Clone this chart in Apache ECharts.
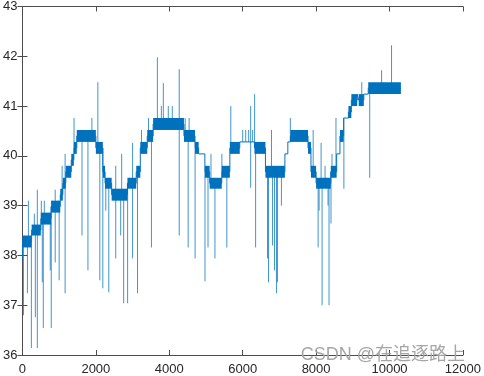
<!DOCTYPE html>
<html>
<head>
<meta charset="utf-8">
<script src="https://cdn.jsdelivr.net/npm/echarts@6/dist/echarts.min.js"></script>
<style>
  html, body { margin: 0; padding: 0; background: #fff; }
  #main { width: 484px; height: 376px; }
</style>
</head>
<body>
<div id="main"></div>
<script>
// plateaus: [xStart, xEnd, low, high]
var segments = [
    [0, 250, 38.16, 38.40],
    [250, 500, 38.40, 38.62],
    [500, 780, 38.62, 38.86],
    [780, 1030, 38.86, 39.10],
    [1030, 1100, 39.10, 39.34],
    [1100, 1180, 39.34, 39.56],
    [1180, 1330, 39.56, 39.80],
    [1330, 1400, 39.80, 40.04],
    [1400, 1480, 40.04, 40.28],
    [1480, 2000, 40.28, 40.52],
    [2000, 2190, 40.04, 40.28],
    [2190, 2250, 39.56, 39.80],
    [2250, 2430, 39.34, 39.56],
    [2430, 2860, 39.10, 39.34],
    [2860, 3100, 39.34, 39.56],
    [3100, 3210, 39.56, 39.80],
    [3210, 3400, 40.04, 40.28],
    [3400, 3560, 40.28, 40.52],
    [3560, 4400, 40.52, 40.76],
    [4400, 4700, 40.28, 40.52],
    [4700, 4800, 40.04, 40.28],
    [4800, 4970, 40.04, 40.04],
    [4970, 5100, 39.56, 39.80],
    [5100, 5430, 39.34, 39.56],
    [5430, 5650, 39.56, 39.80],
    [5650, 5920, 40.04, 40.28],
    [5920, 6320, 40.28, 40.28],
    [6320, 6620, 40.04, 40.28],
    [6620, 7150, 39.56, 39.80],
    [7150, 7230, 40.04, 40.04],
    [7230, 7300, 40.28, 40.28],
    [7300, 7780, 40.28, 40.52],
    [7780, 7860, 40.04, 40.28],
    [7860, 8000, 39.56, 39.80],
    [8000, 8400, 39.34, 39.56],
    [8400, 8560, 39.56, 39.80],
    [8560, 8650, 40.04, 40.04],
    [8650, 8750, 40.28, 40.52],
    [8750, 8880, 40.76, 40.76],
    [8880, 8960, 40.76, 41.00],
    [8960, 9120, 41.00, 41.24],
    [9120, 9160, 41.24, 41.24],
    [9160, 9300, 41.00, 41.24],
    [9300, 9420, 41.24, 41.24],
    [9420, 10310, 41.24, 41.48]
];

// single-sample outliers: [x, value]
var spikes = [
    [27, 36.8], [135, 37.24], [243, 36.14], [351, 36.76], [405, 36.14],
    [540, 37.46], [568, 36.54], [757, 37.7], [784, 36.54], [892, 37.86],
    [1000, 37.5], [1162, 37.24], [1622, 38.4], [1784, 37.7], [2108, 37.5],
    [2189, 37.34], [2270, 38.9], [2352, 37.26], [2541, 37.94], [2676, 38.4],
    [2757, 37.04], [2865, 37.04], [3000, 37.94], [3135, 37.24], [3514, 38.16],
    [4271, 38.4], [4514, 38.16], [4703, 37.94], [4973, 37.48], [5055, 38.16],
    [5244, 37.94], [5568, 38.16], [6217, 39.36], [6352, 38.16], [6676, 37.94],
    [6703, 37.46], [6811, 38.2], [6866, 37.7], [6920, 37.24], [6947, 37.46],
    [7055, 39.0], [8055, 38.16], [8082, 38.9], [8163, 37.0], [8325, 39.0],
    [8352, 37.0], [8406, 38.64], [8757, 39.34], [9460, 39.56],
    [162, 39.1], [324, 38.84], [405, 39.32], [514, 39.1], [595, 39.1],
    [811, 39.1], [892, 39.32], [973, 39.1], [1081, 39.8], [1162, 40.04],
    [1405, 40.76], [1568, 40.52], [1622, 40.52], [1892, 40.76], [2054, 41.48],
    [2541, 39.8], [2703, 40.04], [3000, 40.26], [3243, 40.52], [3433, 40.76],
    [3676, 41.98], [3784, 41.0], [3838, 41.46], [3973, 41.0], [4082, 41.0],
    [4271, 41.74], [4433, 40.76], [4541, 40.76], [5136, 40.04], [5433, 40.04],
    [5676, 41.0], [6000, 40.52], [6082, 40.52], [6163, 40.52], [6217, 41.0],
    [6271, 40.52], [6325, 41.24], [6784, 40.52], [7298, 40.76], [7920, 40.52],
    [8136, 40.26], [8244, 39.8], [8433, 40.04], [8541, 40.76], [9244, 41.48],
    [9784, 41.72], [10055, 42.22]
];

var watermark = 'CSDN @在追逐路上';
var lineColor = '#0072BD';
var axisColor = '#4d4d4d';
var textColor = '#262626';

function baseAt(x) {
    for (var i = 0; i < segments.length; i++) {
        var s = segments[i];
        if (x >= s[0] && x <= s[1]) return (s[2] + s[3]) / 2;
    }
    return null;
}

var pathData = [[0, 37.94]];
segments.forEach(function (s) {
    var mid = (s[2] + s[3]) / 2;
    pathData.push([s[0], mid]);
    pathData.push([s[1], mid]);
});

var bandData = segments.filter(function (s) { return s[3] > s[2]; });
var spikeData = spikes.map(function (p) { return [p[0], p[1], baseAt(p[0])]; });

var chart = echarts.init(document.getElementById('main'), null, { renderer: 'canvas' });

var labelFont = {
    color: textColor,
    fontSize: 13,
    fontFamily: 'Liberation Sans, Arial, sans-serif',
    formatter: function (v) { return String(v); }
};

var option = {
    animation: false,
    grid: { left: 21, right: 19, top: 5, bottom: 21 },
    xAxis: [{
        type: 'value',
        min: 0,
        max: 12000,
        interval: 2000,
        axisLine: { show: true, lineStyle: { color: axisColor, width: 1 } },
        axisTick: { show: true, inside: true, length: 5, lineStyle: { color: axisColor } },
        axisLabel: Object.assign({ margin: 8 }, labelFont),
        splitLine: { show: false }
    }, {
        type: 'value',
        position: 'top',
        min: 0,
        max: 12000,
        interval: 2000,
        axisLine: { show: true, lineStyle: { color: axisColor, width: 1 } },
        axisTick: { show: true, inside: true, length: 5, lineStyle: { color: axisColor } },
        axisLabel: { show: false },
        splitLine: { show: false }
    }],
    yAxis: [{
        type: 'value',
        min: 36,
        max: 43,
        interval: 1,
        axisLine: { show: true, lineStyle: { color: axisColor, width: 1 } },
        axisTick: { show: true, inside: true, length: 5, lineStyle: { color: axisColor } },
        axisLabel: Object.assign({ margin: 5 }, labelFont),
        splitLine: { show: false }
    }, {
        type: 'value',
        position: 'right',
        min: 36,
        max: 43,
        interval: 1,
        axisLine: { show: true, lineStyle: { color: axisColor, width: 1 } },
        axisTick: { show: true, inside: true, length: 5, lineStyle: { color: axisColor } },
        axisLabel: { show: false },
        splitLine: { show: false }
    }],
    series: [{
        type: 'line',
        data: pathData,
        showSymbol: false,
        symbol: 'none',
        lineStyle: { color: lineColor, width: 1 },
        z: 2
    }, {
        type: 'custom',
        data: bandData,
        encode: { x: [0, 1], y: [2, 3] },
        renderItem: function (params, api) {
            var p0 = api.coord([api.value(0), api.value(3)]);
            var p1 = api.coord([api.value(1), api.value(2)]);
            return {
                type: 'rect',
                shape: { x: p0[0], y: p0[1], width: p1[0] - p0[0], height: p1[1] - p0[1] },
                style: { fill: lineColor }
            };
        },
        z: 3
    }, {
        type: 'custom',
        data: spikeData,
        encode: { x: 0, y: [1, 2] },
        renderItem: function (params, api) {
            var x = api.value(0);
            var p0 = api.coord([x, api.value(2)]);
            var p1 = api.coord([x, api.value(1)]);
            return {
                type: 'line',
                shape: { x1: p0[0], y1: p0[1], x2: p1[0], y2: p1[1] },
                style: { stroke: lineColor, lineWidth: 1, opacity: 0.75 }
            };
        },
        z: 4
    }],
    graphic: [{
        type: 'text',
        right: 19,
        top: 346,
        z: 100,
        style: {
            text: watermark,
            fill: '#a6a6a6',
            font: '18px "Liberation Sans", "Noto Sans CJK SC", sans-serif'
        }
    }]
};

chart.setOption(option);
</script>
</body>
</html>
